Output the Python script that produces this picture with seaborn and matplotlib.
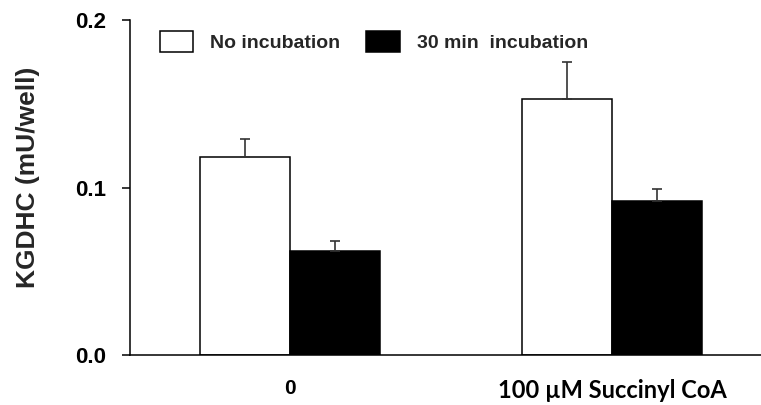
import seaborn as sns
import matplotlib.pyplot as plt
import pandas as pd

# values
treatments = ['0', '100 µM Succinyl CoA']
conditions = ['No incubation', '30 min  incubation']
no_incubation = [0.118, 0.153]
incubation_30min = [0.062, 0.092]
no_incubation_err = [0.011, 0.022]
incubation_30min_err = [0.006, 0.007]
bar_colors = ['white', 'black']

df = pd.DataFrame({
    'treatment': treatments * 2,
    'condition': [conditions[0]] * 2 + [conditions[1]] * 2,
    'activity': no_incubation + incubation_30min,
})
errors = {conditions[0]: no_incubation_err, conditions[1]: incubation_30min_err}

sns.set_style('ticks')
plt.rcParams['font.family'] = ['Liberation Sans', 'DejaVu Sans']
plt.rcParams['font.weight'] = 'bold'

fig = plt.figure(figsize=(7.61, 4.05), dpi=100)
ax = fig.add_axes([0.171, 0.1235, 0.829, 0.827])

sns.barplot(data=df, x='treatment', y='activity', hue='condition',
            order=treatments, hue_order=conditions,
            palette=bar_colors, edgecolor='black', linewidth=1.1,
            width=0.56, errorbar=None, saturation=1, ax=ax)

# upward-only error bars on top of each bar
for cond, container in zip(conditions, ax.containers):
    for bar, err in zip(container, errors[cond]):
        ax.errorbar(bar.get_x() + bar.get_width() / 2, bar.get_height(),
                    yerr=[[0], [err]], fmt='none', ecolor='#333333',
                    elinewidth=1.2, capsize=3.3, capthick=1.2, zorder=1)

ax.set_ylim(0, 0.2)
ax.set_yticks([0.0, 0.1, 0.2])
ax.set_yticklabels(['0.0', '0.1', '0.2'])
ax.set_xlim(-0.497, 1.463)
ax.set_xlabel('')
ax.set_ylabel('KGDHC (mU/well)', fontsize=19, fontweight='bold')
ax.yaxis.set_label_coords(-0.143, 0.53)

sns.despine(ax=ax)
for side in ['left', 'bottom']:
    ax.spines[side].set_linewidth(1.1)
    ax.spines[side].set_color('black')
ax.tick_params(axis='y', length=6, width=1.1, pad=11, labelsize=16, colors='black')
ax.tick_params(axis='x', length=0, pad=17, labelsize=15, colors='black')
labels = ax.get_xticklabels()
labels[1].set_family(['Lato', 'DejaVu Sans'])
labels[1].set_fontsize(17)

leg = ax.legend(loc='upper left', bbox_to_anchor=(0.0475, 0.967), ncol=2,
                frameon=False, borderpad=0, borderaxespad=0, fontsize=14,
                handlelength=1.7, handleheight=1.24, handletextpad=0.88,
                columnspacing=1.34)
for t in leg.get_texts():
    t.set_fontweight('bold')

fig.savefig('out.png', dpi=100)
